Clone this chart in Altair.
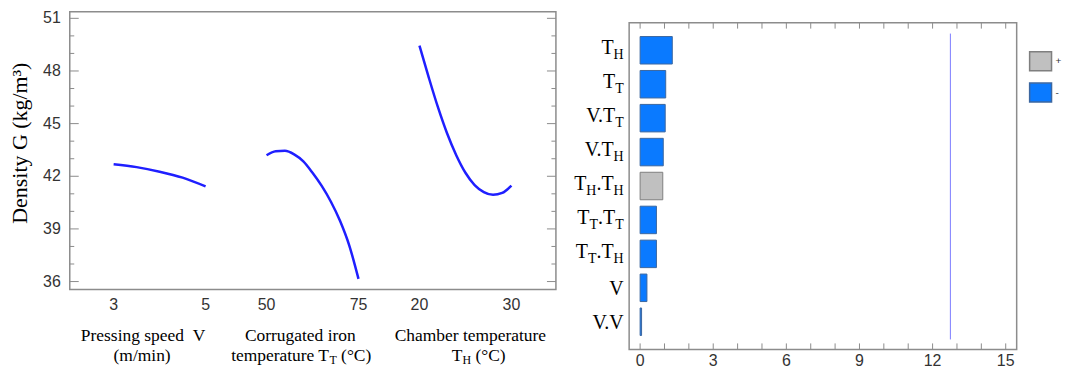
import altair as alt
import pandas as pd

# ---------------- main-effects data ----------------
v_levels = [3.0, 3.5, 4.0, 4.5, 5.0]
v_density = [42.68, 42.52, 42.26, 41.92, 41.42]
tt_levels = [50, 52.5, 55, 57.5, 60, 62.5, 65, 67.5, 70, 72.5, 75]
tt_density = [43.20, 43.42, 43.45, 43.25, 42.85, 42.20, 41.45, 40.55, 39.45, 38.05, 36.15]
th_levels = [20, 21, 22, 23, 24, 25, 26, 27, 28, 29, 30]
th_density = [49.44, 47.65, 45.95, 44.45, 43.20, 42.20, 41.50, 41.10, 40.94, 41.05, 41.47]

factor_ranges = [(3, 5), (50, 75), (20, 30)]
title_line1 = ["Pressing speed \u00a0V", "Corrugated iron", "Chamber temperature"]
title_line2 = ["(m/min)", "temperature T_T (\u00b0C)", "T_H (\u00b0C)"]
y_title = "Density  G (kg/m\u00b3)"
y_ticks = list(range(36, 52))
y_labels = [36, 39, 42, 45, 48, 51]

# ---------------- Pareto data ----------------
terms = ["T_H", "T_T", "V.T_T", "V.T_H", "T_H.T_H", "T_T.T_T", "T_T.T_H", "V", "V.V"]
effects = [1.32, 1.05, 1.03, 0.95, 0.93, 0.67, 0.67, 0.28, 0.06]
signs = ["-", "-", "-", "-", "+", "-", "-", "-", "-"]
critical = 12.73
pareto_ticks = list(range(0, 16))
pareto_labels = [0, 3, 6, 9, 12, 15]

# ---------------- layout / style ----------------
NARROW = "Liberation Sans Narrow, Arial Narrow, Liberation Sans, Arial, sans-serif"
SANS = "Liberation Sans, Arial, sans-serif"
SERIF = "Liberation Serif, Times New Roman, serif"
TICK_C = "#8c8c8c"
LABEL_C = "#333333"

LW, LH = 488, 279
SEG_STEP = 1.663
LX_DOMAIN = [-0.477, 4.81]
LY_DOMAIN = [35.54, 51.38]
LPPU = LW / (LX_DOMAIN[1] - LX_DOMAIN[0])
title_centers1 = [0.32, 2.03, 3.88]
title_centers2 = [0.31, 2.04, 3.97]

RW, RH = 389, 328
RX_DOMAIN = [-0.45, 15.45]
RPPU = RW / (RX_DOMAIN[1] - RX_DOMAIN[0])

CW = {' ': 0.25, '\u00a0': 0.25, '(': 0.333, ')': 0.333, '.': 0.25, '/': 0.278, '\u00b0': 0.4,
      'C': 0.667, 'T': 0.611, 'H': 0.722, 'V': 0.722, 'P': 0.556, 'a': 0.444, 'b': 0.5,
      'c': 0.444, 'd': 0.5, 'e': 0.444, 'g': 0.5, 'h': 0.5, 'i': 0.278, 'm': 0.778, 'n': 0.5,
      'o': 0.5, 'p': 0.5, 'r': 0.333, 's': 0.389, 't': 0.278, 'u': 0.5, 'l': 0.278}


def tw(s, size):
    return sum(CW.get(c, 0.5) for c in s) * size


def pieces(label):
    out = []
    i = 0
    while i < len(label):
        if label[i] == "_":
            out.append((label[i + 1], True))
            i += 2
        else:
            if out and not out[-1][1]:
                out[-1] = (out[-1][0] + label[i], False)
            else:
                out.append((label[i], False))
            i += 1
    return out


# main-effects table
rows = []
for k, (lv, dens) in enumerate([(v_levels, v_density), (tt_levels, tt_density), (th_levels, th_density)]):
    lo, hi = factor_ranges[k]
    for a, d in zip(lv, dens):
        rows.append({"factor": k, "pos": k * SEG_STEP + (a - lo) / (hi - lo), "density": d})
me_df = pd.DataFrame(rows)

tick_pos, tick_txt = [], []
for k, (lo, hi) in enumerate(factor_ranges):
    tick_pos += [k * SEG_STEP, k * SEG_STEP + 1]
    tick_txt += [str(lo), str(hi)]
xlab_df = pd.DataFrame({"pos": tick_pos, "text": tick_txt})
ylab_df = pd.DataFrame({"y": y_labels, "text": [str(v) for v in y_labels]})
ytick_df = pd.DataFrame({"y": y_ticks, "major": [v % 3 == 0 for v in y_ticks]})

t1_df = pd.DataFrame({"x": title_centers1, "text": title_line1})
t2_rows = []
for c, lab in zip(title_centers2, title_line2):
    parts = [(t, s, tw(t, 12 if s else 17.5)) for t, s in pieces(lab)]
    total = sum(p[2] for p in parts)
    cur = (c - LX_DOMAIN[0]) * LPPU - total / 2
    for t, s, w in parts:
        lead = len(t) - len(t.lstrip())
        xp = cur + tw(t[:lead], 12 if s else 17.5)
        t2_rows.append({"x": LX_DOMAIN[0] + xp / LPPU, "text": t.strip(), "sub": s})
        cur += w
t2_df = pd.DataFrame(t2_rows)

xs_l = alt.Scale(domain=LX_DOMAIN, nice=False, zero=False)
ys_l = alt.Scale(domain=LY_DOMAIN, nice=False, zero=False)

lines = alt.Chart(me_df).mark_line(color="#1f1fff", strokeWidth=2.5, interpolate="monotone").encode(
    x=alt.X("pos:Q", scale=xs_l, axis=None),
    y=alt.Y("density:Q", scale=ys_l, axis=None),
    detail="factor:N",
)


def ytick_layer(cond, x1, x2):
    return alt.Chart(ytick_df).transform_filter(cond).mark_rule(color=TICK_C, strokeWidth=1).encode(
        y=alt.Y("y:Q", scale=ys_l, axis=None), x=alt.value(x1), x2=alt.value(x2))


yt = [ytick_layer("datum.major", 0, 9), ytick_layer("!datum.major", 0, 4.5),
      ytick_layer("datum.major", LW, LW - 9), ytick_layer("!datum.major", LW, LW - 4.5)]

ylabs = alt.Chart(ylab_df).mark_text(font=NARROW, fontSize=16, color=LABEL_C, align="right",
                                     baseline="middle").encode(
    y=alt.Y("y:Q", scale=ys_l, axis=None), x=alt.value(-9), text="text:N")
xlabs = alt.Chart(xlab_df).mark_text(font=NARROW, fontSize=16, color=LABEL_C, align="center",
                                     baseline="middle").encode(
    x=alt.X("pos:Q", scale=xs_l, axis=None), y=alt.value(294), text="text:N")
ytitle = alt.Chart(pd.DataFrame({"t": [y_title]})).mark_text(
    font=SERIF, fontSize=22, color="black", angle=270, align="center", baseline="middle").encode(
    x=alt.value(-50), y=alt.value(132), text="t:N")

t1 = alt.Chart(t1_df).mark_text(font=SERIF, fontSize=17.5, color="black", align="center", baseline="middle").encode(
    x=alt.X("x:Q", scale=xs_l, axis=None), y=alt.value(325.5), text="text:N")
t2 = alt.Chart(t2_df).transform_filter("!datum.sub").mark_text(
    font=SERIF, fontSize=17.5, color="black", align="left", baseline="middle").encode(
    x=alt.X("x:Q", scale=xs_l, axis=None), y=alt.value(346), text="text:N")
t2s = alt.Chart(t2_df).transform_filter("datum.sub").mark_text(
    font=SERIF, fontSize=12, color="black", align="left", baseline="middle").encode(
    x=alt.X("x:Q", scale=xs_l, axis=None), y=alt.value(349.5), text="text:N")

left = alt.layer(lines, *yt, ylabs, xlabs, ytitle, t1, t2, t2s).properties(width=LW, height=LH)

# ---------------- Pareto chart ----------------
par_df = pd.DataFrame({"term": terms, "effect": effects, "sign": signs})
xs_r = alt.Scale(domain=RX_DOMAIN, nice=False, zero=False)
ys_r = alt.Scale(domain=terms, paddingInner=0.19, paddingOuter=0.41)

leg = alt.Legend(title=None, orient="none", legendX=401, legendY=26.7,
                 symbolType="M-1,-0.864H1V0.864H-1Z", symbolSize=484, symbolStrokeWidth=1.5,
                 labelFont=SANS, labelFontSize=10, labelColor=LABEL_C, labelOffset=3,
                 rowPadding=5.5, padding=0)

bars = alt.Chart(par_df).mark_bar(strokeWidth=1).encode(
    x=alt.X("effect:Q", scale=xs_r, axis=None),
    x2=alt.datum(0),
    y=alt.Y("term:N", scale=ys_r, sort=terms, axis=None),
    fill=alt.Fill("sign:N", scale=alt.Scale(domain=["+", "-"], range=["#c0c0c0", "#0a7aff"]), legend=leg),
    stroke=alt.Stroke("sign:N", scale=alt.Scale(domain=["+", "-"], range=["#7f7f7f", "#3c67a0"]), legend=leg),
)

xtick_df = pd.DataFrame({"x": pareto_ticks})
xlab_r_df = pd.DataFrame({"x": pareto_labels, "text": [str(v) for v in pareto_labels]})


def xtick_layer(y1, y2):
    return alt.Chart(xtick_df).mark_rule(color=TICK_C, strokeWidth=1).encode(
        x=alt.X("x:Q", scale=xs_r, axis=None), y=alt.value(y1), y2=alt.value(y2))


xlabs_r = alt.Chart(xlab_r_df).mark_text(font=NARROW, fontSize=16, color=LABEL_C, align="center",
                                         baseline="middle").encode(
    x=alt.X("x:Q", scale=xs_r, axis=None), y=alt.value(340), text="text:N")

crit = alt.Chart(pd.DataFrame({"c": [critical]})).mark_rule(color="#7b7bff", strokeWidth=1).encode(
    x=alt.X("c:Q", scale=xs_r, axis=None), y=alt.value(11), y2=alt.value(318))

lab_rows = []
for term in terms:
    parts = [(t, s, tw(t, 14 if s else 20)) for t, s in pieces(term)]
    has_sub = any(p[1] for p in parts)
    cur = -5.5
    for t, s, w in reversed(parts):
        lab_rows.append({"term": term, "x": RX_DOMAIN[0] + cur / RPPU, "text": t, "sub": s, "has_sub": has_sub})
        cur -= w
lab_df = pd.DataFrame(lab_rows)


def lab_layer(cond, size, dy):
    return alt.Chart(lab_df).transform_filter(cond).mark_text(
        font=SERIF, fontSize=size, color="black", align="right", baseline="alphabetic", dy=dy).encode(
        x=alt.X("x:Q", scale=xs_r, axis=None), y=alt.Y("term:N", scale=ys_r, sort=terms, axis=None),
        text="text:N")


labs = [lab_layer("!datum.sub && !datum.has_sub", 20, 7),
        lab_layer("!datum.sub && datum.has_sub", 20, 4),
        lab_layer("datum.sub", 14, 9)]

right = alt.layer(bars, xtick_layer(0, 6), xtick_layer(RH, RH - 6), crit, xlabs_r, *labs).properties(
    width=RW, height=RH)

spacer = alt.Chart(pd.DataFrame({"s": [0]})).mark_point(size=1, filled=True, strokeWidth=0, opacity=0).encode(
    x=alt.value(1), y=alt.value(0.5)).properties(width=RW, height=1,
                                                 view=alt.ViewBackground(stroke="transparent"))

right_col = alt.vconcat(spacer, right, spacing=7).resolve_legend(fill="independent", stroke="independent")

chart = alt.hconcat(left, right_col, spacing=15.5, padding=0).resolve_legend(
    fill="independent", stroke="independent").configure_view(stroke="#8c8c8c", strokeWidth=1.5)

chart.save("out.html", embed_options={"renderer": "svg", "actions": False})
